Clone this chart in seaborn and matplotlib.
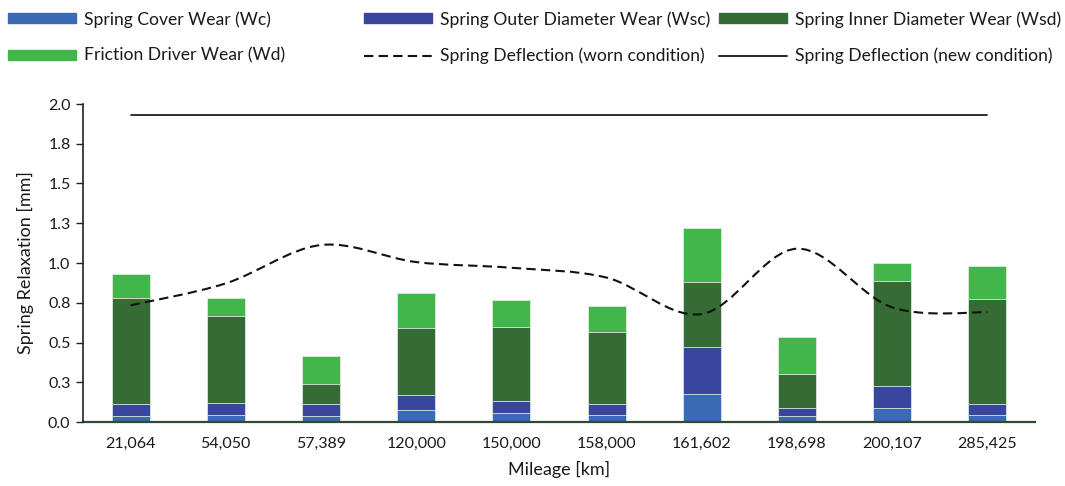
import numpy as np
import matplotlib
matplotlib.use("Agg")
import matplotlib.pyplot as plt
from matplotlib.path import Path
from matplotlib.patches import PathPatch, Patch
from matplotlib.lines import Line2D
import seaborn as sns

# Mileage categories (km)
mileage = ["21,064", "54,050", "57,389", "120,000", "150,000",
           "158,000", "161,602", "198,698", "200,107", "285,425"]

# Wear components [mm], stacked bottom to top
cover_wear = [0.040, 0.046, 0.040, 0.075, 0.058, 0.041, 0.177, 0.039, 0.087, 0.047]
outer_wear = [0.075, 0.074, 0.071, 0.095, 0.071, 0.071, 0.292, 0.046, 0.141, 0.067]
inner_wear = [0.665, 0.547, 0.128, 0.423, 0.470, 0.451, 0.413, 0.216, 0.656, 0.661]
driver_wear = [0.149, 0.113, 0.176, 0.218, 0.171, 0.165, 0.337, 0.235, 0.117, 0.207]

# Spring deflection [mm]
worn_deflection = [0.734, 0.872, 1.113, 1.006, 0.970, 0.908, 0.679, 1.090, 0.721, 0.690]
new_deflection = [1.93, 1.93, 1.93, 1.93, 1.93, 1.93, 1.93, 1.93, 1.93, 1.93]

y_ticks = [0.0, 0.25, 0.5, 0.75, 1.0, 1.25, 1.5, 1.75, 2.0]
y_tick_labels = ["0.0", "0.3", "0.5", "0.8", "1.0", "1.3", "1.5", "1.8", "2.0"]

series_names = ["Spring Cover Wear (Wc)", "Spring Outer Diameter Wear (Wsc)",
                "Spring Inner Diameter Wear (Wsd)", "Friction Driver Wear (Wd)"]
series_colors = ["#3A6AB4", "#38469E", "#356B34", "#42B64A"]

sns.set_theme(style="white")
plt.rcParams["font.family"] = ["Lato", "DejaVu Sans"]
text_color = "#1a1a1a"
FS = 11.5
LEG_FS = 12.6

fig = plt.figure(figsize=(10.65, 4.86), dpi=100)
ax = fig.add_axes([83 / 1065, 1 - 422 / 486, (1035 - 83) / 1065, (422 - 104) / 486])

# Stacked bars: draw cumulative totals from the top layer down
layers = [cover_wear, outer_wear, inner_wear, driver_wear]
cum = np.cumsum(np.array(layers), axis=0)
for k in range(len(layers) - 1, -1, -1):
    sns.barplot(x=mileage, y=cum[k], order=mileage, color=series_colors[k],
                saturation=1, width=0.4, edgecolor="#dfe8df", linewidth=0.6, ax=ax)

# New-condition deflection (solid)
pos = np.arange(len(mileage))
sns.lineplot(x=pos, y=new_deflection, color="#1f1f1f", linewidth=1.3, ax=ax)

# Worn-condition deflection as a smoothed Bezier curve through the points
pts = np.column_stack([pos, worn_deflection]).astype(float)
n = len(pts)
verts = [pts[0]]
codes = [Path.MOVETO]
for i in range(n - 1):
    p0 = pts[i - 1] if i > 0 else pts[i]
    p1, p2 = pts[i], pts[i + 1]
    p3 = pts[i + 2] if i + 2 < n else pts[i + 1]
    verts += [p1 + (p2 - p0) / 6, p2 - (p3 - p1) / 6, p2]
    codes += [Path.CURVE4] * 3
ax.add_patch(PathPatch(Path(verts, codes), fill=False, edgecolor="#111111",
                       linewidth=1.5, linestyle=(0, (4.5, 2.5)), capstyle="butt"))

ax.set_xlim(-0.5, len(mileage) - 0.5)
ax.set_ylim(0, 2.0)
ax.set_yticks(y_ticks)
ax.set_yticklabels(y_tick_labels)
ax.tick_params(axis="y", length=5, width=1, color="#222222", direction="out",
               labelsize=FS, labelcolor=text_color, pad=4, left=True)
ax.tick_params(axis="x", length=0, labelsize=FS, labelcolor=text_color, pad=11)

for s in ["top", "right"]:
    ax.spines[s].set_visible(False)
ax.spines["left"].set_color("#222222")
ax.spines["left"].set_linewidth(1.2)
ax.spines["bottom"].set_color("#2e4d2e")
ax.spines["bottom"].set_linewidth(1.6)
ax.spines["left"].set_zorder(5)

ax.set_ylabel("Spring Relaxation [mm]", fontsize=FS + 1.5, color=text_color, labelpad=10)
ax.set_xlabel("Mileage [km]", fontsize=FS + 1.5, color=text_color, labelpad=7)

# Legend laid out as three columns of two rows
dash_style = (0, (4.5, 2.5))
columns = [
    ([Patch(color=series_colors[0]), Patch(color=series_colors[3])],
     [series_names[0], series_names[3]], 8),
    ([Patch(color=series_colors[1]),
      Line2D([], [], color="#111111", lw=1.5, ls=dash_style)],
     [series_names[1], "Spring Deflection (worn condition)"], 364),
    ([Patch(color=series_colors[2]), Line2D([], [], color="#111111", lw=1.3)],
     [series_names[2], "Spring Deflection (new condition)"], 719),
]
for handles, labels, x0 in columns:
    fig.legend(handles, labels, loc="upper left",
               bbox_to_anchor=(x0 / 1065, 1 - 11 / 486), frameon=False,
               fontsize=LEG_FS, handlelength=3.9, handleheight=0.52,
               handletextpad=0.45, labelspacing=1.15, borderpad=0,
               borderaxespad=0, labelcolor=text_color)

fig.savefig("out.png", dpi=100)
